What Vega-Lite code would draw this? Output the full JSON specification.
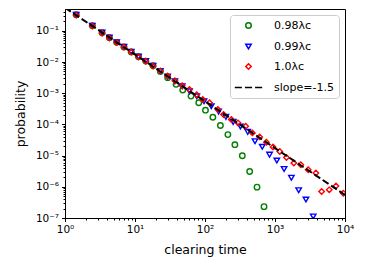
{
  "$schema": "https://vega.github.io/schema/vega-lite/v6.json",
  "width": 280,
  "height": 209,
  "autosize": "none",
  "padding": {"left": 65, "top": 9, "right": 21, "bottom": 40},
  "config": {
    "font": "DejaVu Sans",
    "view": {"stroke": "black", "strokeWidth": 1},
    "axis": {
      "domainColor": "black", "tickColor": "black", "labelColor": "black", "titleColor": "black",
      "grid": false, "labelFont": "DejaVu Sans", "titleFont": "DejaVu Sans",
      "labelFontSize": 10.5, "titleFontSize": 12.5, "titleFontWeight": "normal",
      "labelOverlap": false, "labelFlush": false, "labelPadding": 3
    },
    "legend": {
      "labelFont": "DejaVu Sans", "labelFontSize": 11, "labelColor": "black"
    }
  },
  "layer": [
    {
      "data": {"values": [
        {"series": "0.98λc", "t": 1.445, "p": 0.327},
        {"series": "0.98λc", "t": 2.455, "p": 0.145},
        {"series": "0.98λc", "t": 3.388, "p": 0.0871},
        {"series": "0.98λc", "t": 4.305, "p": 0.0603},
        {"series": "0.98λc", "t": 5.470, "p": 0.0427},
        {"series": "0.98λc", "t": 6.950, "p": 0.0305},
        {"series": "0.98λc", "t": 8.831, "p": 0.0211},
        {"series": "0.98λc", "t": 11.22, "p": 0.0148},
        {"series": "0.98λc", "t": 14.26, "p": 0.0107},
        {"series": "0.98λc", "t": 18.11, "p": 0.00759},
        {"series": "0.98λc", "t": 23.01, "p": 0.00500},
        {"series": "0.98λc", "t": 29.31, "p": 0.003155},
        {"series": "0.98λc", "t": 38.64, "p": 0.001919},
        {"series": "0.98λc", "t": 48.08, "p": 0.001259},
        {"series": "0.98λc", "t": 63.10, "p": 0.000807},
        {"series": "0.98λc", "t": 81.47, "p": 0.000494},
        {"series": "0.98λc", "t": 101.6, "p": 0.000286},
        {"series": "0.98λc", "t": 129.4, "p": 0.000170},
        {"series": "0.98λc", "t": 166.0, "p": 0.0000918},
        {"series": "0.98λc", "t": 212.3, "p": 0.0000471},
        {"series": "0.98λc", "t": 267.3, "p": 0.0000224},
        {"series": "0.98λc", "t": 341.2, "p": 0.00000993},
        {"series": "0.98λc", "t": 434.5, "p": 0.00000310},
        {"series": "0.98λc", "t": 553.4, "p": 0.000000975},
        {"series": "0.98λc", "t": 696.6, "p": 0.000000231},

        {"series": "0.99λc", "t": 1.445, "p": 0.327},
        {"series": "0.99λc", "t": 2.455, "p": 0.145},
        {"series": "0.99λc", "t": 3.388, "p": 0.0871},
        {"series": "0.99λc", "t": 4.305, "p": 0.0603},
        {"series": "0.99λc", "t": 5.470, "p": 0.0427},
        {"series": "0.99λc", "t": 6.950, "p": 0.0305},
        {"series": "0.99λc", "t": 8.831, "p": 0.0211},
        {"series": "0.99λc", "t": 11.22, "p": 0.0148},
        {"series": "0.99λc", "t": 14.26, "p": 0.0107},
        {"series": "0.99λc", "t": 18.11, "p": 0.00759},
        {"series": "0.99λc", "t": 23.01, "p": 0.00513},
        {"series": "0.99λc", "t": 29.24, "p": 0.00339},
        {"series": "0.99λc", "t": 37.15, "p": 0.00240},
        {"series": "0.99λc", "t": 47.21, "p": 0.00166},
        {"series": "0.99λc", "t": 59.98, "p": 0.00115},
        {"series": "0.99λc", "t": 76.21, "p": 0.000794},
        {"series": "0.99λc", "t": 96.83, "p": 0.000550},
        {"series": "0.99λc", "t": 123.0, "p": 0.000380},
        {"series": "0.99λc", "t": 156.3, "p": 0.000257},
        {"series": "0.99λc", "t": 198.6, "p": 0.000174},
        {"series": "0.99λc", "t": 252.4, "p": 0.000120},
        {"series": "0.99λc", "t": 320.6, "p": 0.0000851},
        {"series": "0.99λc", "t": 407.4, "p": 0.0000575},
        {"series": "0.99λc", "t": 517.6, "p": 0.0000288},
        {"series": "0.99λc", "t": 657.7, "p": 0.0000191},
        {"series": "0.99λc", "t": 835.6, "p": 0.0000107},
        {"series": "0.99λc", "t": 1062, "p": 0.00000692},
        {"series": "0.99λc", "t": 1349, "p": 0.00000372},
        {"series": "0.99λc", "t": 1714, "p": 0.00000195},
        {"series": "0.99λc", "t": 2178, "p": 0.000000776},
        {"series": "0.99λc", "t": 2767, "p": 0.000000389},
        {"series": "0.99λc", "t": 3516, "p": 0.000000112},

        {"series": "1.0λc", "t": 1.445, "p": 0.318},
        {"series": "1.0λc", "t": 2.455, "p": 0.142},
        {"series": "1.0λc", "t": 3.388, "p": 0.0840},
        {"series": "1.0λc", "t": 4.305, "p": 0.0590},
        {"series": "1.0λc", "t": 5.470, "p": 0.0420},
        {"series": "1.0λc", "t": 6.950, "p": 0.0300},
        {"series": "1.0λc", "t": 8.831, "p": 0.0208},
        {"series": "1.0λc", "t": 11.22, "p": 0.0146},
        {"series": "1.0λc", "t": 14.26, "p": 0.0106},
        {"series": "1.0λc", "t": 18.11, "p": 0.00745},
        {"series": "1.0λc", "t": 23.01, "p": 0.00520},
        {"series": "1.0λc", "t": 29.24, "p": 0.003548},
        {"series": "1.0λc", "t": 37.15, "p": 0.002512},
        {"series": "1.0λc", "t": 47.21, "p": 0.001738},
        {"series": "1.0λc", "t": 59.98, "p": 0.001318},
        {"series": "1.0λc", "t": 76.21, "p": 0.000891},
        {"series": "1.0λc", "t": 92.9, "p": 0.000631},
        {"series": "1.0λc", "t": 116.1, "p": 0.000494},
        {"series": "1.0λc", "t": 152.8, "p": 0.000302},
        {"series": "1.0λc", "t": 184.1, "p": 0.000207},
        {"series": "1.0λc", "t": 237.7, "p": 0.000143},
        {"series": "1.0λc", "t": 295.1, "p": 0.000112},
        {"series": "1.0λc", "t": 381.1, "p": 0.0000871},
        {"series": "1.0λc", "t": 475.3, "p": 0.0000535},
        {"series": "1.0λc", "t": 603.9, "p": 0.0000398},
        {"series": "1.0λc", "t": 753.4, "p": 0.0000266},
        {"series": "1.0λc", "t": 937.6, "p": 0.0000189},
        {"series": "1.0λc", "t": 1169.5, "p": 0.0000136},
        {"series": "1.0λc", "t": 1458.8, "p": 0.00000875},
        {"series": "1.0λc", "t": 1857.8, "p": 0.00000578},
        {"series": "1.0λc", "t": 2338.8, "p": 0.00000509},
        {"series": "1.0λc", "t": 2978.5, "p": 0.00000352},
        {"series": "1.0λc", "t": 3837, "p": 0.00000275},
        {"series": "1.0λc", "t": 4634, "p": 0.000000703},
        {"series": "1.0λc", "t": 5957, "p": 0.000000798},
        {"series": "1.0λc", "t": 7430, "p": 0.00000107},
        {"series": "1.0λc", "t": 9462, "p": 0.000000624}
      ]},
      "mark": {"type": "point", "filled": false, "size": 30, "strokeWidth": 1.4, "opacity": 1, "clip": true},
      "encoding": {
        "x": {
          "field": "t", "type": "quantitative",
          "scale": {"type": "log", "domain": [1, 10000], "nice": false},
          "axis": {
            "title": "clearing time", "titlePadding": 8,
            "values": [1,2,3,4,5,6,7,8,9,10,20,30,40,50,60,70,80,90,100,200,300,400,500,600,700,800,900,1000,2000,3000,4000,5000,6000,7000,8000,9000,10000],
            "tickSize": {"condition": {"test": "abs(log(datum.value)/LN10 - round(log(datum.value)/LN10)) < 0.000001", "value": 3.5}, "value": 2},
            "labelExpr": "abs(log(datum.value)/LN10 - round(log(datum.value)/LN10)) < 0.000001 ? '10' + (round(log(datum.value)/LN10) < 0 ? '⁻' : '') + ['⁰','¹','²','³','⁴','⁵','⁶','⁷','⁸','⁹'][abs(round(log(datum.value)/LN10))] : ''"
          }
        },
        "y": {
          "field": "p", "type": "quantitative",
          "scale": {"type": "log", "domain": [0.0000001, 0.5], "nice": false},
          "axis": {
            "title": "probability", "titlePadding": 8,
            "values": [1e-7,2e-7,3e-7,4e-7,5e-7,6e-7,7e-7,8e-7,9e-7,1e-6,2e-6,3e-6,4e-6,5e-6,6e-6,7e-6,8e-6,9e-6,1e-5,2e-5,3e-5,4e-5,5e-5,6e-5,7e-5,8e-5,9e-5,1e-4,2e-4,3e-4,4e-4,5e-4,6e-4,7e-4,8e-4,9e-4,0.001,0.002,0.003,0.004,0.005,0.006,0.007,0.008,0.009,0.01,0.02,0.03,0.04,0.05,0.06,0.07,0.08,0.09,0.1,0.2,0.3,0.4],
            "tickSize": {"condition": {"test": "abs(log(datum.value)/LN10 - round(log(datum.value)/LN10)) < 0.000001", "value": 3.5}, "value": 2},
            "labelExpr": "abs(log(datum.value)/LN10 - round(log(datum.value)/LN10)) < 0.000001 ? '10' + (round(log(datum.value)/LN10) < 0 ? '⁻' : '') + ['⁰','¹','²','³','⁴','⁵','⁶','⁷','⁸','⁹'][abs(round(log(datum.value)/LN10))] : ''"
          }
        },
        "color": {
          "field": "series", "type": "nominal",
          "scale": {"domain": ["0.98λc", "0.99λc", "1.0λc", "slope=-1.5"], "range": ["#008000", "#0000ff", "#ff0000", "#000000"]},
          "legend": {
            "title": null, "orient": "top-right", "offset": 6,
            "fillColor": "rgba(255,255,255,0.8)", "strokeColor": "#cccccc", "cornerRadius": 3,
            "padding": 5, "rowPadding": 8, "symbolOffset": 8, "labelOffset": 20,
            "symbolSize": 30, "symbolStrokeWidth": 1.5
          }
        },
        "shape": {
          "field": "series", "type": "nominal",
          "scale": {"domain": ["0.98λc", "0.99λc", "1.0λc", "slope=-1.5"], "range": ["circle", "triangle-down", "diamond", "M-5,0H-2.4M-1.3,0H1.3M2.4,0H5"]},
          "legend": {
            "title": null, "orient": "top-right", "offset": 6,
            "fillColor": "rgba(255,255,255,0.8)", "strokeColor": "#cccccc", "cornerRadius": 3,
            "padding": 5, "rowPadding": 8, "symbolOffset": 8, "labelOffset": 20,
            "symbolSize": 30, "symbolStrokeWidth": 1.5
          }
        }
      }
    },
    {
      "data": {"values": [
        {"series": "slope=-1.5", "t": 1, "p": 0.55},
        {"series": "slope=-1.5", "t": 10000, "p": 0.00000055}
      ]},
      "mark": {"type": "line", "strokeWidth": 2, "strokeDash": [7, 3], "clip": true},
      "encoding": {
        "x": {"field": "t", "type": "quantitative"},
        "y": {"field": "p", "type": "quantitative"},
        "color": {"field": "series", "type": "nominal"}
      }
    }
  ]
}
